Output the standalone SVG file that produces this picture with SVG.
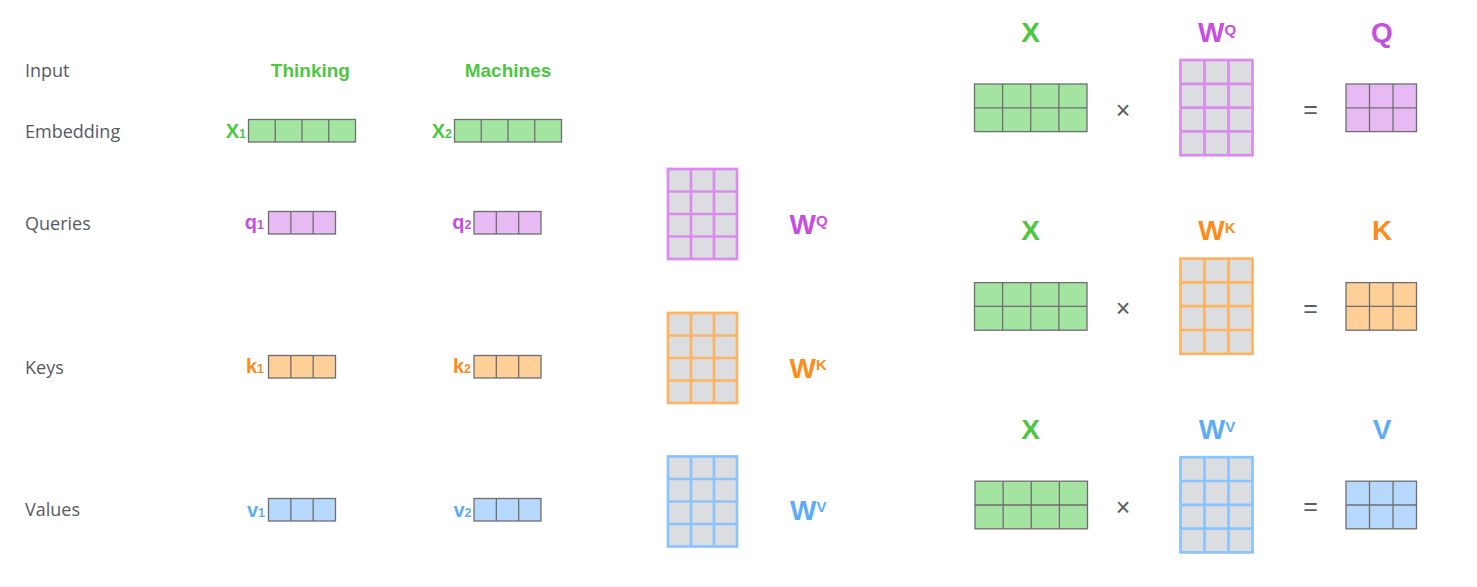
<svg xmlns="http://www.w3.org/2000/svg" width="1477" height="587" viewBox="0 0 1477 587">
<style>
.lbl{font-family:"Open Sans","Liberation Sans",sans-serif;font-size:18px;font-weight:500;fill:#555a62}
.b{font-family:"Liberation Sans",Arial,sans-serif;font-weight:bold}
.word{font-size:19px}
.sym{font-size:20px}
.sub{font-size:12.5px}
.big{font-size:28px}
.sup{font-size:15px}
.op{font-family:"Liberation Sans",Arial,sans-serif;font-size:25px;fill:#5a5d62}
.tg{fill:#4dc73f}.tp{fill:#c64fe0}.to{fill:#fd8c1a}.tb{fill:#5eacf7}
.vg{fill:#a3e4a0}.vp{fill:#e8baf3}.vo{fill:#fecf97}.vb{fill:#b5d8fc}
.v{stroke:#6e6e70;stroke-width:1.3}
.vl{fill:none;stroke:#6e6e70;stroke-width:1.3}
.w{fill:#dcdde0;stroke-width:2.7}
.wl{fill:none;stroke-width:2.7}
.sp{stroke:#d98ceb}.so{stroke:#fcb462}.sb{stroke:#8cc3fb}
</style>
<rect width="1477" height="587" fill="#ffffff"/>
<g id="row-labels">
<text class="lbl" x="25" y="77">Input</text>
<text class="lbl" x="25" y="137.5">Embedding</text>
<text class="lbl" x="25" y="229.5">Queries</text>
<text class="lbl" x="25" y="373.5">Keys</text>
<text class="lbl" x="25" y="516">Values</text>
</g>
<g id="word-thinking"><text class="b word tg" x="310.4" y="77" text-anchor="middle">Thinking</text></g>
<g id="word-machines"><text class="b word tg" x="508" y="77" text-anchor="middle">Machines</text></g>
<g id="x1">
<rect class="v vg" x="248.5" y="119.5" width="107" height="22.5"/>
<path class="vl" d="M275.25 119.5v22.5M302 119.5v22.5M328.75 119.5v22.5"/>
<text class="b sym tg" x="246" y="138" text-anchor="end">X<tspan class="sub">1</tspan></text>
</g>
<g id="x2">
<rect class="v vg" x="454.5" y="119.5" width="107" height="22.5"/>
<path class="vl" d="M481.25 119.5v22.5M508 119.5v22.5M534.75 119.5v22.5"/>
<text class="b sym tg" x="452" y="138" text-anchor="end">X<tspan class="sub">2</tspan></text>
</g>
<g id="q1">
<rect class="v vp" x="268.5" y="211.5" width="67" height="22.5"/>
<path class="vl" d="M290.83 211.5v22.5M313.17 211.5v22.5"/>
<text class="b sym tp" x="264" y="228.5" text-anchor="end">q<tspan class="sub">1</tspan></text>
</g>
<g id="q2">
<rect class="v vp" x="474" y="211.5" width="67" height="22.5"/>
<path class="vl" d="M496.33 211.5v22.5M518.67 211.5v22.5"/>
<text class="b sym tp" x="471.5" y="228.5" text-anchor="end">q<tspan class="sub">2</tspan></text>
</g>
<g id="k1">
<rect class="v vo" x="268.5" y="355.5" width="67" height="22.5"/>
<path class="vl" d="M290.83 355.5v22.5M313.17 355.5v22.5"/>
<text class="b sym to" x="264" y="372.5" text-anchor="end">k<tspan class="sub">1</tspan></text>
</g>
<g id="k2">
<rect class="v vo" x="474" y="355.5" width="67" height="22.5"/>
<path class="vl" d="M496.33 355.5v22.5M518.67 355.5v22.5"/>
<text class="b sym to" x="471" y="372.5" text-anchor="end">k<tspan class="sub">2</tspan></text>
</g>
<g id="v1">
<rect class="v vb" x="268.5" y="498.5" width="67" height="22.5"/>
<path class="vl" d="M290.83 498.5v22.5M313.17 498.5v22.5"/>
<text class="b sym tb" x="265" y="516.5" text-anchor="end">v<tspan class="sub">1</tspan></text>
</g>
<g id="v2">
<rect class="v vb" x="474" y="498.5" width="67" height="22.5"/>
<path class="vl" d="M496.33 498.5v22.5M518.67 498.5v22.5"/>
<text class="b sym tb" x="471.5" y="516.5" text-anchor="end">v<tspan class="sub">2</tspan></text>
</g>
<g id="wq-left">
<rect class="w sp" x="668" y="169" width="69" height="90"/>
<path class="wl sp" d="M691 169v90M714 169v90M668 191.5h69M668 214h69M668 236.5h69"/>
<text class="b big tp" x="789.5" y="233.5">W<tspan class="sup" dy="-8">Q</tspan></text>
</g>
<g id="wk-left">
<rect class="w so" x="668" y="313" width="69" height="90"/>
<path class="wl so" d="M691 313v90M714 313v90M668 335.5h69M668 358h69M668 380.5h69"/>
<text class="b big to" x="789.5" y="377.5">W<tspan class="sup" dy="-8">K</tspan></text>
</g>
<g id="wv-left">
<rect class="w sb" x="668" y="456.5" width="69" height="90"/>
<path class="wl sb" d="M691 456.5v90M714 456.5v90M668 479h69M668 501.5h69M668 524h69"/>
<text class="b big tb" x="790" y="520">W<tspan class="sup" dy="-8">V</tspan></text>
</g>
<g id="eq-q">
<g id="x-q">
<text class="b big tg" x="1030.5" y="41.7" text-anchor="middle">X</text>
<rect class="v vg" x="974.5" y="84" width="112.5" height="47.6"/>
<path class="vl" d="M1002.6 84v47.6M1030.75 84v47.6M1058.9 84v47.6M974.5 107.8h112.5"/>
</g>
<text class="op" x="1123" y="118.5" text-anchor="middle">×</text>
<g id="w-q">
<text class="b big tp" x="1217" y="41.7" text-anchor="middle">W<tspan class="sup" dy="-7">Q</tspan></text>
<rect class="w sp" x="1180.5" y="60" width="72" height="95.2"/>
<path class="wl sp" d="M1204.5 60v95.2M1228.5 60v95.2M1180.5 83.8h72M1180.5 107.6h72M1180.5 131.4h72"/>
</g>
<text class="op" x="1310.5" y="118" text-anchor="middle">=</text>
<g id="q-result">
<text class="b big tp" x="1382" y="41.7" text-anchor="middle">Q</text>
<rect class="v vp" x="1346" y="84" width="70.5" height="47.6"/>
<path class="vl" d="M1369.5 84v47.6M1393 84v47.6M1346 107.8h70.5"/>
</g>
</g>
<g id="eq-k" transform="translate(0,198.6)">
<g id="x-k">
<text class="b big tg" x="1030.5" y="41.7" text-anchor="middle">X</text>
<rect class="v vg" x="974.5" y="84" width="112.5" height="47.6"/>
<path class="vl" d="M1002.6 84v47.6M1030.75 84v47.6M1058.9 84v47.6M974.5 107.8h112.5"/>
</g>
<text class="op" x="1123" y="118.5" text-anchor="middle">×</text>
<g id="w-k">
<text class="b big to" x="1217" y="41.7" text-anchor="middle">W<tspan class="sup" dy="-7">K</tspan></text>
<rect class="w so" x="1180.5" y="60" width="72" height="95.2"/>
<path class="wl so" d="M1204.5 60v95.2M1228.5 60v95.2M1180.5 83.8h72M1180.5 107.6h72M1180.5 131.4h72"/>
</g>
<text class="op" x="1310.5" y="118" text-anchor="middle">=</text>
<g id="k-result">
<text class="b big to" x="1382" y="41.7" text-anchor="middle">K</text>
<rect class="v vo" x="1346" y="84" width="70.5" height="47.6"/>
<path class="vl" d="M1369.5 84v47.6M1393 84v47.6M1346 107.8h70.5"/>
</g>
</g>
<g id="eq-v" transform="translate(0,397.2)">
<g id="x-v">
<text class="b big tg" x="1030.5" y="41.7" text-anchor="middle">X</text>
<rect class="v vg" x="975" y="84" width="112.5" height="47.6"/>
<path class="vl" d="M1003.1 84v47.6M1031.25 84v47.6M1059.4 84v47.6M975 107.8h112.5"/>
</g>
<text class="op" x="1123" y="118.5" text-anchor="middle">×</text>
<g id="w-v">
<text class="b big tb" x="1217" y="41.7" text-anchor="middle">W<tspan class="sup" dy="-7">V</tspan></text>
<rect class="w sb" x="1180.5" y="60" width="72" height="95.2"/>
<path class="wl sb" d="M1204.5 60v95.2M1228.5 60v95.2M1180.5 83.8h72M1180.5 107.6h72M1180.5 131.4h72"/>
</g>
<text class="op" x="1310.5" y="118" text-anchor="middle">=</text>
<g id="v-result">
<text class="b big tb" x="1382" y="41.7" text-anchor="middle">V</text>
<rect class="v vb" x="1346" y="84" width="70.5" height="47.6"/>
<path class="vl" d="M1369.5 84v47.6M1393 84v47.6M1346 107.8h70.5"/>
</g>
</g>
<g id="connectors"/>
</svg>
